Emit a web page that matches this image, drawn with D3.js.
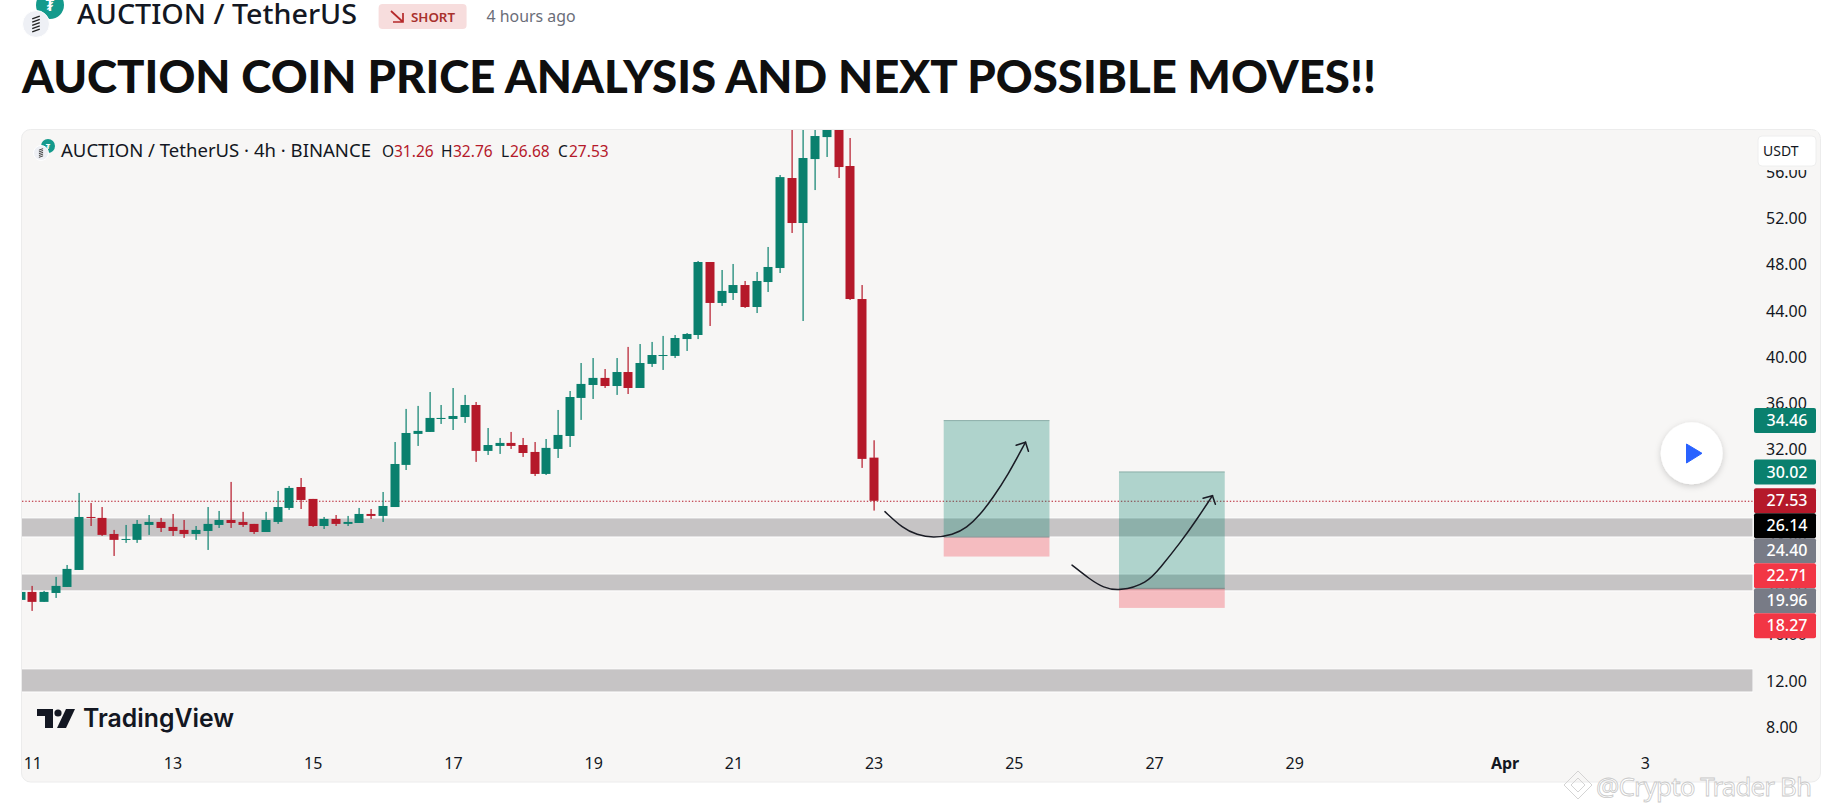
<!DOCTYPE html>
<html><head><meta charset="utf-8">
<script src="https://cdn.jsdelivr.net/npm/d3@7/dist/d3.min.js"></script>
<style>html,body{margin:0;padding:0;background:#fff;overflow:hidden}svg{display:block}</style>
</head><body><div id="chart"></div>
<script>
const candleIndex = d3.range(0, 74);
const opens = [18.96,19.65,18.79,19.56,20.08,21.55,26.13,26.05,24.66,24.15,24.15,25.44,25.70,25.27,25.01,24.66,24.92,25.44,25.87,25.70,25.53,24.83,25.70,26.91,28.72,27.69,25.35,25.96,25.53,25.61,26.39,26.22,26.99,30.63,33.31,33.48,34.60,34.60,34.77,35.81,31.84,32.27,32.53,32.35,31.75,29.85,32.01,33.13,36.42,37.54,38.15,37.45,38.66,37.28,39.36,40.05,40.05,41.51,41.86,48.17,44.63,45.49,46.18,44.28,46.44,47.65,55.43,51.54,57.07,58.97,60.27,56.47,44.97,31.26];
const highs = [19.74,20.17,19.74,20.95,21.98,28.21,27.34,26.99,25.01,25.44,25.87,26.30,26.05,26.39,25.87,25.35,26.99,26.65,29.16,26.57,25.53,26.57,28.38,28.81,29.50,27.69,26.13,26.30,26.22,26.91,26.82,28.29,32.61,35.47,35.73,36.93,35.81,37.28,36.68,36.07,33.82,32.96,33.48,32.96,32.61,32.87,35.38,37.02,39.44,39.87,38.92,39.87,40.83,41.08,41.26,41.78,41.86,42.03,48.26,48.17,47.48,48.00,46.53,47.31,49.47,55.69,61.31,61.31,60.62,60.27,60.62,58.89,46.18,32.76];
const lows = [18.88,18.01,18.79,19.13,20.08,21.55,25.35,24.49,22.76,23.89,23.89,24.58,24.83,24.49,24.32,24.15,23.28,25.18,25.18,25.27,24.66,24.83,25.53,26.74,26.82,25.27,25.09,25.35,25.35,25.61,25.96,25.70,26.99,30.19,32.27,33.48,34.17,33.65,34.26,30.89,31.49,31.58,32.01,31.32,29.67,29.76,31.23,32.18,34.52,36.33,37.28,36.68,36.76,37.28,39.10,38.84,39.87,40.48,41.51,42.64,44.37,44.89,44.20,43.76,45.58,47.22,50.68,43.07,54.39,57.25,55.43,44.89,30.37,26.68];
const closes = [19.65,18.79,19.65,20.17,21.64,26.13,26.05,24.58,24.15,24.23,25.53,25.70,25.18,24.92,24.66,25.01,25.53,25.87,25.61,25.44,24.83,25.87,26.99,28.64,27.60,25.35,25.96,25.53,25.70,26.39,26.22,27.08,30.71,33.39,33.57,34.69,34.69,34.86,35.81,31.84,32.35,32.53,32.27,31.66,29.85,32.10,33.22,36.50,37.63,38.15,37.45,38.66,37.28,39.44,40.13,40.13,41.60,41.95,48.17,44.63,45.67,46.18,44.28,46.53,47.74,55.51,51.54,57.16,59.06,60.01,56.38,44.97,31.15,27.53];

const lastPrice = 27.53;
const bandTop = [26.05, 21.20, 13.00];
const bandBottom = [24.40, 19.74, 11.00];
const priceTicks = [8,12,16,20,24,28,32,36,40,44,48,52,56];
const dateTickIndex = [1,13,25,37,49,61,73,85,97,109,127,139];
const dateTickLabels = ["11","13","15","17","19","21","23","25","27","29","Apr","3"];

const positionStart = [79, 94];
const positionEnd = [88.05, 103.05];
const positionTarget = [34.46, 30.02];
const positionEntry = [24.40, 19.96];
const positionStop = [22.71, 18.27];

const arrowOneIdx = [73.97,75.5,76.7,78.1,79.8,80.97,82.1,83.2,84.5,86.0];
const arrowOnePrice = [26.59,25.15,24.58,24.31,24.58,25.18,26.30,27.77,29.76,32.59];
const arrowOneHeadIdx = [85.2,86.0,86.25];
const arrowOneHeadPrice = [32.33,32.59,31.81];
const arrowTwoIdx = [89.98,91.5,92.65,94.05,96.4,97.5,99.25,100.65,102.0];
const arrowTwoPrice = [21.97,20.75,20.02,19.71,20.4,21.7,23.9,25.9,27.97];
const arrowTwoHeadIdx = [101.2,102.0,102.25];
const arrowTwoHeadPrice = [27.75,27.97,27.23];

const axisBadgeValues = [34.46,30.02,27.53,26.14,24.40,22.71,19.96,18.27];
const axisBadgeColors = ["#0a806e","#0a806e","#b5192a","#000000","#787b86","#f23645","#787b86","#f23645"];

const legendPairs = [["O","31.26"],["H","32.76"],["L","26.68"],["C","27.53"]];

const W = 1821, H = 807;
const UI = "'Noto Sans', sans-serif";
const UP = "#0a806e", DOWN = "#b5192a";

const svg = d3.select("#chart").append("svg").attr("width", W).attr("height", H).attr("viewBox", `0 0 ${W} ${H}`);
svg.append("rect").attr("width", W).attr("height", H).attr("fill", "#fff");

const defs = svg.append("defs");
defs.append("clipPath").attr("id","pane").append("rect").attr("x",22).attr("y",130).attr("width",1731).attr("height",650);
const sh = defs.append("filter").attr("id","shadow").attr("x","-30%").attr("y","-30%").attr("width","160%").attr("height","160%");
sh.append("feDropShadow").attr("dx",0).attr("dy",2).attr("stdDeviation",3).attr("flood-color","#000").attr("flood-opacity",0.18);

const y = d3.scaleLinear().domain([52, 8]).range([217.7, 726.7]);
const x = d3.scaleLinear().domain([1, 139]).range([32.3, 1644.8]);

// Coin logo: teal Tether disc behind, grey token disc in front
function coinLogo(gx, gy, gr, tx, ty, tr) {
  const n = svg.append("g");
  n.append("circle").attr("cx",tx).attr("cy",ty).attr("r",tr).attr("fill","#149a8c");
  n.append("text").attr("x",tx).attr("y",ty+tr*0.4).attr("text-anchor","middle").attr("font-family",UI).attr("font-weight",700).attr("font-size",tr*1.1).attr("fill","#fff").text("₮");
  n.append("circle").attr("cx",gx).attr("cy",gy).attr("r",gr).attr("fill","#eef0f5").attr("stroke","#fff").attr("stroke-width",1);
  d3.range(-2,3).forEach(i=>{
    n.append("line").attr("x1",gx-gr*0.28).attr("x2",gx+gr*0.28).attr("y1",gy+i*gr*0.24+gr*0.1).attr("y2",gy+i*gr*0.24-gr*0.1).attr("stroke","#222").attr("stroke-width",Math.max(0.8,gr*0.11));
  });
}
// Header
coinLogo(36, 24, 13.5, 50, 5, 14);
svg.append("text").attr("x",77).attr("y",24).attr("font-family",UI).attr("font-size",27).attr("font-weight",500).attr("fill","#131722").attr("textLength",280).attr("lengthAdjust","spacingAndGlyphs").text("AUCTION / TetherUS");
svg.append("rect").attr("x",378.6).attr("y",4).attr("width",88).attr("height",25).attr("rx",4).attr("fill","#f7dddd");
svg.append("path").attr("d","M391 11 L403 22 M403 13 V22 H393").attr("fill","none").attr("stroke","#b5292a").attr("stroke-width",1.7);
svg.append("text").attr("x",411).attr("y",21.5).attr("font-family",UI).attr("font-size",13).attr("font-weight",600).attr("fill","#a8302c").attr("textLength",44).attr("lengthAdjust","spacingAndGlyphs").text("SHORT");
svg.append("text").attr("x",486.6).attr("y",22).attr("font-family",UI).attr("font-size",16).attr("fill","#6a6d78").attr("textLength",89).attr("lengthAdjust","spacingAndGlyphs").text("4 hours ago");
svg.append("text").attr("x",22).attr("y",93).attr("font-family","Lato, sans-serif").attr("font-size",46).attr("font-weight",900).attr("fill","#0f0f0f").attr("textLength",1354).attr("lengthAdjust","spacingAndGlyphs").text("AUCTION COIN PRICE ANALYSIS AND NEXT POSSIBLE MOVES!!");

// Pane
svg.append("rect").attr("x",21.5).attr("y",129.5).attr("width",1799).attr("height",652.5).attr("rx",9).attr("fill","#f7f6f5").attr("stroke","#ececec").attr("stroke-width",1);

const pane = svg.append("g").attr("clip-path","url(#pane)");

// Bands
pane.append("g").selectAll("rect").data(d3.range(bandTop.length)).join("rect")
  .attr("x",20).attr("width",1733)
  .attr("y",i=>y(bandTop[i]))
  .attr("height",i=>y(bandBottom[i])-y(bandTop[i]))
  .attr("fill","#c6c4c5").attr("stroke","#fff").attr("stroke-width",1);

// Last price line
pane.append("line").attr("x1",22).attr("x2",1753).attr("y1",y(lastPrice)+0.5).attr("y2",y(lastPrice)+0.5)
  .attr("stroke",DOWN).attr("stroke-width",1.2).attr("stroke-dasharray","1.4 1.9");

// Candles
const candles = pane.append("g").selectAll("g").data(candleIndex).join("g")
  .attr("fill",i=>closes[i]>=opens[i]?UP:DOWN);
candles.append("rect").attr("x",i=>Math.round(x(i))-0.5).attr("width",1.2)
  .attr("y",i=>y(highs[i])).attr("height",i=>y(lows[i])-y(highs[i]));
candles.append("rect").attr("x",i=>Math.round(x(i))-4.5).attr("width",9)
  .attr("y",i=>y(Math.max(opens[i],closes[i])))
  .attr("height",i=>Math.max(1,y(Math.min(opens[i],closes[i]))-y(Math.max(opens[i],closes[i]))));

// Long positions
const pos = pane.append("g").selectAll("g").data(d3.range(positionStart.length)).join("g");
pos.append("rect").attr("x",i=>x(positionStart[i])).attr("width",i=>x(positionEnd[i])-x(positionStart[i]))
  .attr("y",i=>y(positionTarget[i])).attr("height",i=>y(positionEntry[i])-y(positionTarget[i]))
  .attr("fill","#0a806e").attr("fill-opacity",0.3);
pos.append("rect").attr("x",i=>x(positionStart[i])).attr("width",i=>x(positionEnd[i])-x(positionStart[i]))
  .attr("y",i=>y(positionEntry[i])).attr("height",i=>y(positionStop[i])-y(positionEntry[i]))
  .attr("fill","#f23645").attr("fill-opacity",0.3);
pos.append("line").attr("x1",i=>x(positionStart[i])).attr("x2",i=>x(positionEnd[i]))
  .attr("y1",i=>y(positionTarget[i])).attr("y2",i=>y(positionTarget[i])).attr("stroke","#8aaea8").attr("stroke-width",1);
pos.append("line").attr("x1",i=>x(positionStart[i])).attr("x2",i=>x(positionEnd[i]))
  .attr("y1",i=>y(positionEntry[i])).attr("y2",i=>y(positionEntry[i])).attr("stroke","#7a8a8a").attr("stroke-width",1);

// Arrows
const zip = (a,b)=>a.map((v,i)=>[x(v),y(b[i])]);
const curve = d3.line().curve(d3.curveBasis);
const smoothEnds = pts => [pts[0],...pts,pts[pts.length-1]];
const straight = d3.line();
const arrowStyle = s=>s.attr("fill","none").attr("stroke","#1a1c25").attr("stroke-width",1.5).attr("stroke-linecap","round");
pane.append("path").attr("d",curve(smoothEnds(zip(arrowOneIdx,arrowOnePrice)))).call(arrowStyle);
pane.append("path").attr("d",straight(zip(arrowOneHeadIdx,arrowOneHeadPrice))).call(arrowStyle);
pane.append("path").attr("d",curve(smoothEnds(zip(arrowTwoIdx,arrowTwoPrice)))).call(arrowStyle);
pane.append("path").attr("d",straight(zip(arrowTwoHeadIdx,arrowTwoHeadPrice))).call(arrowStyle);

// Price axis
const yAxis = d3.axisRight(y).tickValues(priceTicks).tickFormat(d3.format(".2f")).tickSize(0).tickPadding(0);
const axisG = svg.append("g").attr("transform","translate(1766,0.7)").call(yAxis);
axisG.select(".domain").remove();
axisG.selectAll("text").attr("font-family",UI).attr("font-size",16).attr("fill","#131722");

// Date axis
const xTickScale = d3.scaleOrdinal().domain(dateTickIndex).range(dateTickLabels);
const xAxis = d3.axisBottom(x).tickValues(dateTickIndex).tickFormat(d=>xTickScale(d)).tickSize(0).tickPadding(0);
const xG = svg.append("g").attr("transform","translate(0,758)").call(xAxis);
xG.select(".domain").remove();
xG.selectAll("text").attr("font-family",UI).attr("font-size",16).attr("fill","#131722").attr("font-weight",d=>xTickScale(d)==="Apr"?700:400);

// Badges: pushed down so they never overlap
let prev = -Infinity;
const badgeH = 25;
const badgeY = axisBadgeValues.map(v=>{ const c=Math.max(y(v),prev+badgeH); prev=c; return c; });
const badge = svg.append("g").selectAll("g").data(d3.range(axisBadgeValues.length)).join("g");
badge.append("rect").attr("x",1754).attr("width",62).attr("height",badgeH).attr("rx",2)
  .attr("y",i=>badgeY[i]-badgeH/2).attr("fill",i=>axisBadgeColors[i]);
badge.append("text").attr("x",1766.5).attr("y",i=>badgeY[i]).attr("dy","0.35em").attr("font-family",UI).attr("font-size",16).attr("font-weight",500).attr("fill","#fff")
  .text(i=>axisBadgeValues[i].toFixed(2));

// USDT: its margin hides the top of the 56.00 tick
svg.append("rect").attr("x",1756).attr("y",131).attr("width",62).attr("height",39).attr("fill","#f7f6f5");
svg.append("rect").attr("x",1758).attr("y",136).attr("width",58).attr("height",30).attr("rx",4).attr("fill","#fff").attr("stroke","#eeeeee");
svg.append("text").attr("x",1763).attr("y",156).attr("font-family",UI).attr("font-size",14).attr("fill","#131722").text("USDT");

// Legend
coinLogo(41, 153, 7.5, 48, 146, 7);
svg.append("text").attr("x",61).attr("y",157).attr("font-family",UI).attr("font-size",18).attr("fill","#131722").attr("textLength",310).attr("lengthAdjust","spacingAndGlyphs").text("AUCTION / TetherUS · 4h · BINANCE");
const legendLetterX = [382,441,501,558];
const legendValueX = [394,453,510,569];
legendPairs.forEach((p,i)=>{
  svg.append("text").attr("x",legendLetterX[i]).attr("y",157).attr("font-family",UI).attr("font-size",15.5).attr("fill","#131722").text(p[0]);
  svg.append("text").attr("x",legendValueX[i]).attr("y",157).attr("font-family",UI).attr("font-size",15.5).attr("fill",DOWN).text(p[1]);
});

// Play button
svg.append("circle").attr("cx",1691.7).attr("cy",453.3).attr("r",31).attr("fill","#fff").attr("filter","url(#shadow)");
svg.append("path").attr("d","M1686.5 444 L1702 453.3 L1686.5 463 Z").attr("fill","#2962ff").attr("stroke","#2962ff").attr("stroke-width",1).attr("stroke-linejoin","round");

// TradingView logo
const tv = svg.append("g").attr("fill","#131722");
tv.append("path").attr("d","M37 709 H53 V728 H45 V716 H37 Z");
tv.append("circle").attr("cx",58).attr("cy",713).attr("r",3.6);
tv.append("path").attr("d","M66 709 H75 L66 728 H57 Z");
svg.append("text").attr("x",83).attr("y",726.5).attr("font-family","Inter, sans-serif").attr("font-size",25.5).attr("font-weight",600).attr("fill","#131722").attr("textLength",151).attr("lengthAdjust","spacingAndGlyphs").text("TradingView");

// Watermark
const wm = svg.append("g").attr("fill","none").attr("stroke","#cfcfcf").attr("stroke-width",0.9);
wm.append("path").attr("d","M1578 771 L1592 785 L1578 799 L1564 785 Z");
wm.append("path").attr("d","M1578 778 L1585 785 L1578 792 L1571 785 Z");
svg.append("text").attr("x",1596).attr("y",796).attr("font-family",UI).attr("font-size",26).attr("fill","#fff").attr("stroke","#c8c8c8").attr("stroke-width",0.8).attr("textLength",216).text("@Crypto Trader Bh");
</script></body></html>
